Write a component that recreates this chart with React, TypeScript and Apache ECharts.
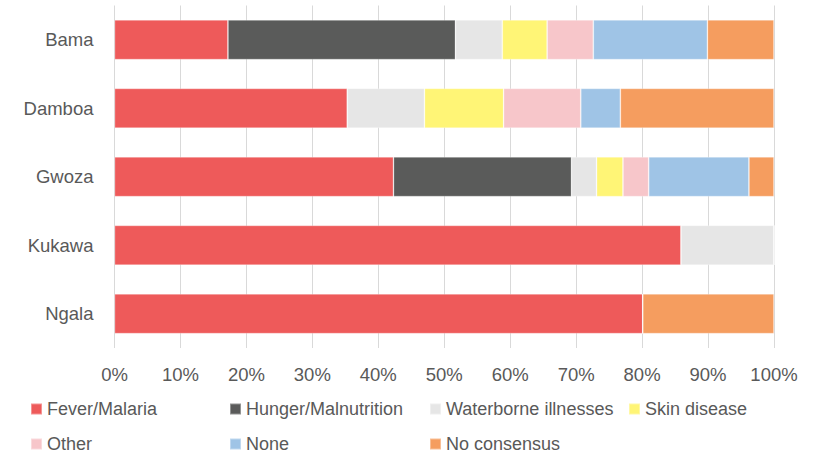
import React, { useEffect, useRef } from "react";
import * as echarts from "echarts";

const categories = ["Bama", "Damboa", "Gwoza", "Kukawa", "Ngala"];
const seriesNames = [
  "Fever/Malaria",
  "Hunger/Malnutrition",
  "Waterborne illnesses",
  "Skin disease",
  "Other",
  "None",
  "No consensus",
];
const feverMalaria = [17.2, 35.3, 42.3, 85.9, 80.1];
const hungerMalnutrition = [34.5, 0, 27.0, 0, 0];
const waterborne = [7.1, 11.7, 3.8, 14.1, 0];
const skinDisease = [6.8, 12.0, 4.0, 0, 0];
const other = [7.0, 11.7, 3.9, 0, 0];
const none = [17.3, 6.0, 15.2, 0, 0];
const noConsensus = [10.1, 23.3, 3.8, 0, 19.9];
const tickValues = [0, 10, 20, 30, 40, 50, 60, 70, 80, 90, 100];

const seriesData = [feverMalaria, hungerMalnutrition, waterborne, skinDisease, other, none, noConsensus];
const colors = ["#EE5A5A", "#5A5B5A", "#E6E6E6", "#FFF576", "#F7C6CA", "#9FC4E6", "#F59D5F"];

const legendLefts = [30, 229, 429, 628, 30, 229, 429];
const legendTops = [398, 398, 398, 398, 433, 433, 433];

export default function App() {
  const ref = useRef<HTMLDivElement>(null);
  useEffect(() => {
    document.body.style.margin = "0";
    if (!ref.current) return;
    const chart = echarts.init(ref.current, undefined, { renderer: "svg" });
    const font = "'Liberation Sans', Arial, sans-serif";
    chart.setOption({
      animation: false,
      textStyle: { fontFamily: font },
      grid: { left: 114.5, right: 44, top: 5.5, bottom: 107, containLabel: false },
      xAxis: {
        type: "value",
        min: tickValues[0],
        max: tickValues[tickValues.length - 1],
        interval: 10,
        axisLine: { show: false },
        axisTick: { show: false },
        splitLine: { show: true, lineStyle: { color: "#D9D9D9", width: 1 } },
        axisLabel: {
          formatter: "{value}%",
          color: "#595959",
          fontSize: 18.5,
          fontFamily: font,
          margin: 17,
        },
      },
      yAxis: {
        type: "category",
        data: categories,
        inverse: true,
        axisLine: { show: false },
        axisTick: { show: false },
        splitLine: { show: false },
        axisLabel: { color: "#595959", fontSize: 18.5, fontFamily: font, margin: 21 },
      },
      legend: seriesNames.map((name, i) => ({
        data: [name],
        left: legendLefts[i],
        top: legendTops[i],
        icon: "rect",
        itemWidth: 11,
        itemHeight: 11,
        padding: 0,
        selectedMode: false,
        textStyle: { color: "#595959", fontSize: 18, fontFamily: font, lineHeight: 22 },
      })),
      series: seriesNames.map((name, i) => ({
        name,
        type: "bar",
        stack: "total",
        barCategoryGap: "42%",
        data: seriesData[i],
        itemStyle: {
          color: colors[i],
          borderColor: "rgba(255,255,255,0.35)",
          borderWidth: 0.8,
        },
      })),
    });
    return () => chart.dispose();
  }, []);
  return <div ref={ref} style={{ width: 818, height: 455 }} />;
}
